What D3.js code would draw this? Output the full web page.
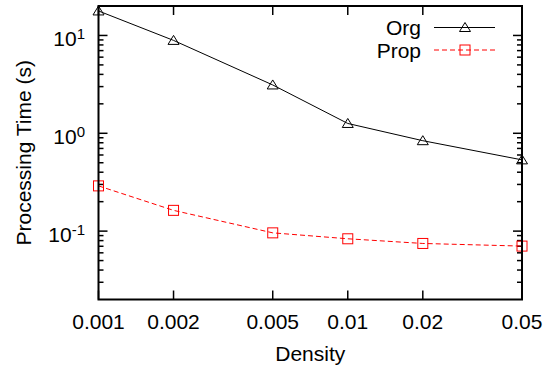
<!DOCTYPE html>
<html><head><meta charset="utf-8">
<script src="https://cdn.jsdelivr.net/npm/d3@7"></script>
<style>body{margin:0;background:#fff}svg{display:block;font-family:"Liberation Sans",Arial,sans-serif}</style>
</head><body><svg id="c" width="552" height="369"></svg>
<script>
const density = [0.001, 0.002, 0.005, 0.01, 0.02, 0.05];
const orgTimes = [17.8, 8.9, 3.12, 1.26, 0.84, 0.535];
const propTimes = [0.29, 0.163, 0.096, 0.0835, 0.0748, 0.0703];
const xTickLabels = ["0.001", "0.002", "0.005", "0.01", "0.02", "0.05"];
const yDecades = [-1, 0, 1];
const seriesNames = ["Org", "Prop"];

const W = 552, H = 369;
const L = 98.5, R = 522, T = 6, B = 299.5;
const FS = 21;
const svg = d3.select("#c");
const x = d3.scaleLog().domain([0.001, 0.05]).range([L, R]);
const y = d3.scaleLog().domain([0.02, 20]).range([B, T]);

// minor ticks
const minor = [];
for (let e = -2; e <= 1; e++) for (let m = 2; m <= 9; m++) {
  const v = m * Math.pow(10, e);
  if (v > 0.02 && v < 20) minor.push(v);
}
const g = svg.append("g").attr("stroke", "#000").attr("stroke-width", 1.5);
minor.forEach(v => {
  g.append("line").attr("x1", L).attr("x2", L + 5).attr("y1", y(v)).attr("y2", y(v));
  g.append("line").attr("x1", R).attr("x2", R - 5).attr("y1", y(v)).attr("y2", y(v));
});
yDecades.forEach(e => {
  const v = Math.pow(10, e);
  g.append("line").attr("x1", L).attr("x2", L + 9).attr("y1", y(v)).attr("y2", y(v));
  g.append("line").attr("x1", R).attr("x2", R - 9).attr("y1", y(v)).attr("y2", y(v));
});
density.forEach(d => {
  g.append("line").attr("x1", x(d)).attr("x2", x(d)).attr("y1", B).attr("y2", B - 9);
  g.append("line").attr("x1", x(d)).attr("x2", x(d)).attr("y1", T).attr("y2", T + 9);
});

// y tick labels
yDecades.forEach(e => {
  const t = svg.append("text").attr("x", 85).attr("y", y(Math.pow(10, e)) + 10.5)
    .attr("text-anchor", "end").attr("font-size", FS).attr("fill", "#000");
  t.append("tspan").text("10");
  t.append("tspan").attr("dy", -7).attr("font-size", 15).text(String(e));
});
// x tick labels
density.forEach((d, i) => {
  svg.append("text").attr("x", x(d)).attr("y", 329).attr("text-anchor", "middle")
    .attr("font-size", FS).attr("fill", "#000").text(xTickLabels[i]);
});
svg.append("text").attr("x", (L + R) / 2).attr("y", 361).attr("text-anchor", "middle")
  .attr("font-size", FS).text("Density");
svg.append("text").attr("transform", `translate(31,${(T + B) / 2}) rotate(-90)`)
  .attr("text-anchor", "middle").attr("font-size", FS).text("Processing Time (s)");

// lines
const line = d3.line().x(d => x(d[0])).y(d => y(d[1]));
const orgData = density.map((d, i) => [d, orgTimes[i]]);
const propData = density.map((d, i) => [d, propTimes[i]]);
svg.append("path").datum(orgData).attr("d", line).attr("fill", "none").attr("stroke", "#000").attr("stroke-width", 1);
svg.append("path").datum(propData).attr("d", line).attr("fill", "none").attr("stroke", "#ff0000").attr("stroke-width", 1).attr("stroke-dasharray", "5,3");

function tri(cx, cy) {
  return `M${cx - 5.5},${cy + 4} L${cx + 5.5},${cy + 4} L${cx},${cy - 5} Z`;
}
orgData.forEach(d => {
  svg.append("path").attr("d", tri(x(d[0]), y(d[1]))).attr("fill", "none").attr("stroke", "#000").attr("stroke-width", 1);
});
propData.forEach(d => {
  svg.append("rect").attr("x", x(d[0]) - 5).attr("y", y(d[1]) - 5).attr("width", 10).attr("height", 10)
    .attr("fill", "none").attr("stroke", "#ff0000").attr("stroke-width", 1);
});

// frame
svg.append("rect").attr("x", L).attr("y", T).attr("width", R - L).attr("height", B - T)
  .attr("fill", "none").attr("stroke", "#000").attr("stroke-width", 2);

// legend
const lg = [{name: seriesNames[0], y: 27.5}, {name: seriesNames[1], y: 50}];
lg.forEach((l, i) => {
  svg.append("text").attr("x", 421).attr("y", l.y + 7.5).attr("text-anchor", "end").attr("font-size", FS).text(l.name);
  const ln = svg.append("line").attr("x1", 434).attr("x2", 495).attr("y1", l.y).attr("y2", l.y)
    .attr("stroke", i ? "#ff0000" : "#000").attr("stroke-width", 1);
  if (i) ln.attr("stroke-dasharray", "5,3");
  if (i) svg.append("rect").attr("x", 460).attr("y", l.y - 5).attr("width", 10).attr("height", 10).attr("fill", "none").attr("stroke", "#ff0000");
  else svg.append("path").attr("d", tri(465, l.y)).attr("fill", "none").attr("stroke", "#000");
});
</script></body></html>
